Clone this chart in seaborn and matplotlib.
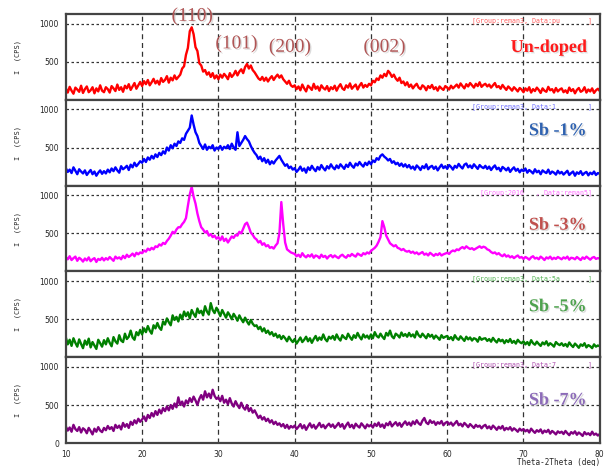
import numpy as np
import pandas as pd
import matplotlib.pyplot as plt
import matplotlib.patheffects as pe
import seaborn as sns
from matplotlib.ticker import MultipleLocator

# 2-theta sampling grid (deg), 0.25 deg step
two_theta = np.arange(10, 80.001, 0.25)

undoped = [
    150, 95, 170, 120, 80, 160, 135, 105, 185, 90, 140, 175, 100, 125, 165, 85, 150, 110, 190, 120,
    100, 165, 140, 95, 180, 150, 115, 200, 130, 165, 105, 185, 150, 205, 130, 175, 220, 145, 190, 235,
    180, 245, 205, 260, 190, 230, 275, 215, 250, 200, 285, 235, 260, 310, 225, 290, 255, 320, 270, 300,
    330, 410, 440, 590, 680, 900, 950, 860, 690, 640, 480, 450, 370, 390, 330, 360, 300, 350, 280, 320,
    270, 330, 290, 340, 310, 270, 350, 300, 330, 380, 320, 370, 400, 350, 430, 470, 410, 450, 390, 360,
    320, 280, 260, 300, 250, 290, 240, 280, 310, 260, 300, 330, 290, 320, 270, 240, 210, 250, 190, 170,
    190, 140, 175, 125, 200, 150, 110, 185, 160, 130, 210, 145, 175, 120, 190, 155, 135, 180, 115, 165,
    140, 185, 120, 170, 205, 150, 130, 190, 160, 215, 145, 175, 200, 135, 185, 220, 160, 195, 170, 210,
    190, 250, 230, 280, 260, 320, 290, 340, 310, 380, 350, 300, 330, 280, 250, 290, 220, 240, 190, 230,
    170, 200, 150, 185, 210, 160, 140, 190, 170, 125, 180, 155, 195, 140, 165, 120, 175, 150, 130, 180,
    160, 135, 185, 150, 175, 200, 160, 215, 180, 150, 205, 175, 220, 190, 160, 210, 180, 230, 170, 195,
    210, 175, 200, 160, 190, 220, 165, 180, 145, 195, 160, 130, 175, 150, 120, 165, 140, 110, 155, 135,
    100, 150, 120, 165, 95, 140, 115, 160, 130, 90, 150, 120, 105, 170, 125, 140, 95, 155, 110, 135,
    150, 100, 125, 90, 160, 115, 140, 85, 130, 155, 105, 120, 165, 95, 135, 110, 150, 90, 125, 145,
    115,
]

sb1 = [
    230, 180, 210, 165, 240, 195, 150, 215, 185, 160, 200, 140, 175, 205, 150, 185, 130, 170, 200, 155,
    190, 160, 210, 175, 225, 190, 240, 200, 170, 255, 215, 235, 260, 205, 275, 240, 300, 255, 285, 320,
    300, 350, 310, 370, 340, 390, 355, 410, 375, 430, 400, 450, 420, 500, 460, 530, 490, 550, 520, 580,
    560, 620, 600, 680, 720, 760, 920, 800, 700, 650, 560, 520, 480, 540, 470, 510, 490, 530, 460, 500,
    480, 520, 470, 510, 490, 530, 480, 550, 500, 470, 700, 520, 560, 600, 650, 610, 580, 520, 470, 430,
    400, 350, 380, 320, 360, 300, 340, 280, 320, 290, 330, 360, 390, 340, 300, 260, 280, 230, 250, 210,
    230, 180, 210, 250, 195, 225, 170, 240, 205, 260, 220, 190, 245, 210, 270, 230, 200, 255, 225, 280,
    240, 215, 265, 230, 280, 250, 220, 275, 245, 300, 260, 235, 290, 265, 310, 275, 250, 300, 270, 315,
    280, 330, 310, 360, 340, 390, 410, 380, 360, 330, 350, 300, 320, 280, 300, 260, 290, 250, 280, 240,
    270, 225, 250, 210, 265, 240, 205, 255, 230, 280, 215, 245, 260, 220, 250, 200, 240, 275, 230, 255,
    220, 270, 245, 210, 260, 235, 285, 250, 225, 275, 290, 240, 265, 230, 280, 250, 220, 270, 245, 230,
    260, 220, 250, 205, 240, 265, 215, 235, 190, 245, 225, 200, 235, 180, 215, 240, 195, 220, 175, 210,
    190, 225, 170, 205, 185, 160, 215, 175, 195, 150, 200, 180, 165, 210, 155, 185, 170, 145, 195, 160,
    180, 145, 170, 195, 140, 165, 185, 130, 175, 155, 190, 140, 165, 180, 135, 170, 150, 185, 140, 165,
    155,
]

sb3 = [
    190, 160, 200, 150, 175, 195, 140, 180, 160, 130, 170, 145, 185, 135, 160, 175, 125, 165, 150, 180,
    145, 175, 155, 190, 165, 140, 195, 170, 185, 160, 205, 175, 220, 190, 210, 235, 200, 245, 225, 250,
    240, 275, 260, 300, 280, 310, 290, 330, 320, 355, 340, 375, 360, 400, 430, 470, 520, 500, 550, 580,
    580, 620, 650, 700, 860, 1010, 1110, 980, 890, 760, 660, 580, 550, 510, 530, 470, 490, 450, 470, 430,
    450, 410, 460, 400, 430, 380, 420, 460, 440, 480, 470, 520, 500, 560, 620, 640, 580, 510, 480, 440,
    420, 380, 400, 350, 370, 330, 345, 310, 320, 300, 340, 370, 500, 910, 620, 380, 290, 270, 250, 240,
    230, 200, 220, 190, 240, 205, 185, 215, 195, 225, 180, 210, 200, 175, 220, 190, 205, 170, 200, 215,
    185, 210, 190, 175, 205, 220, 195, 180, 215, 200, 230, 210, 195, 235, 220, 205, 240, 225, 250, 235,
    270, 290, 310, 340, 390, 450, 660, 580, 470, 420, 370, 350, 330, 345, 310, 300, 280, 295, 270, 260,
    270, 245, 260, 235, 250, 225, 240, 255, 220, 235, 210, 245, 225, 205, 230, 215, 240, 210, 225, 235,
    245, 230, 260, 275, 265, 290, 280, 305, 320, 300, 330, 310, 295, 305, 285, 300, 315, 330, 310, 325,
    315, 290, 280, 255, 240, 250, 225, 240, 215, 200, 225, 195, 210, 185, 200, 175, 195, 210, 180, 190,
    165, 190, 175, 155, 185, 200, 170, 180, 160, 195, 175, 150, 185, 170, 195, 160, 180, 165, 190, 175,
    160, 185, 170, 195, 155, 180, 175, 160, 190, 170, 150, 185, 165, 195, 175, 155, 180, 190, 165, 175,
    170,
]

sb5 = [
    260, 170, 230, 150, 250, 190, 140, 235, 175, 120, 220, 165, 245, 130, 200, 155, 110, 230, 185, 140,
    225, 170, 250, 190, 145, 265, 210, 180, 290, 220, 200, 310, 240, 270, 350, 260, 230, 330, 290, 360,
    300, 380, 330, 410, 350, 310, 420, 380, 450, 390, 360, 470, 430, 510, 460, 420, 550, 490, 530, 470,
    560, 500, 600, 540, 590, 510, 620, 570, 530, 640, 580, 610, 550, 670, 600, 560, 710, 620, 580, 650,
    600, 540, 620, 570, 520, 590, 550, 500, 570, 530, 480, 550, 500, 460, 520, 470, 430, 490, 440, 410,
    420, 370, 400, 340, 380, 320, 350, 300, 330, 280, 310, 260, 290, 240, 280, 250, 210, 270, 230, 200,
    240, 180, 220, 260, 200, 230, 270, 210, 250, 190, 240, 280, 220, 260, 230, 300, 240, 210, 270, 245,
    280, 230, 300, 250, 220, 290, 260, 240, 310, 265, 230, 290, 255, 320, 270, 235, 300, 260, 285, 245,
    300, 250, 330, 280, 260, 310, 270, 240, 320, 285, 350, 275, 250, 310, 290, 260, 325, 280, 305, 270,
    320, 275, 300, 260, 340, 290, 265, 310, 280, 250, 305, 270, 295, 245, 285, 260, 230, 290, 255, 270,
    280, 240, 265, 225, 290, 250, 230, 275, 245, 215, 270, 235, 260, 220, 250, 240, 205, 265, 230, 245,
    250, 215, 240, 205, 255, 220, 195, 240, 210, 230, 185, 225, 200, 240, 190, 215, 180, 230, 200, 185,
    210, 170, 200, 160, 225, 185, 165, 205, 175, 150, 195, 170, 210, 155, 185, 165, 140, 200, 175, 160,
    185, 150, 175, 140, 195, 160, 135, 180, 155, 125, 170, 150, 185, 130, 160, 145, 120, 170, 140, 155,
    145,
]

sb7 = [
    220, 165, 205, 150, 240, 185, 160, 210, 140, 195, 175, 130, 200, 160, 115, 190, 150, 210, 165, 145,
    200, 170, 225, 185, 210, 160, 240, 200, 230, 180, 265, 215, 250, 200, 280, 240, 300, 260, 320, 280,
    310, 350, 290, 370, 330, 395, 350, 420, 370, 440, 390, 460, 420, 480, 430, 500, 450, 520, 470, 600,
    500, 545, 480, 560, 520, 590, 540, 610, 560, 500, 580, 630, 570, 680, 600, 650, 590, 700, 620, 580,
    600, 550, 620, 530, 570, 510, 590, 520, 480, 550, 500, 460, 530, 470, 440, 500, 420, 460, 400, 430,
    380, 330, 360, 310, 340, 290, 320, 270, 300, 250, 280, 240, 260, 220, 250, 200, 240, 190, 225, 205,
    230, 185, 215, 250, 195, 235, 175, 220, 260, 205, 240, 190, 225, 265, 210, 240, 195, 230, 255, 215,
    245, 200, 230, 265, 215, 250, 190, 235, 270, 210, 240, 195, 255, 225, 205, 260, 230, 195, 245, 220,
    240, 205, 255, 225, 270, 215, 245, 200, 260, 235, 280, 220, 250, 275, 230, 265, 215, 255, 285, 240,
    270, 230, 285, 250, 300, 260, 240, 295, 330, 270, 250, 300, 265, 285, 240, 275, 255, 290, 235, 265,
    280, 245, 270, 230, 260, 290, 235, 255, 220, 265, 240, 210, 250, 225, 200, 240, 215, 230, 195, 225,
    240, 195, 220, 185, 230, 205, 175, 215, 190, 225, 170, 200, 180, 210, 165, 195, 175, 150, 190, 165,
    185, 155, 175, 140, 190, 160, 135, 170, 150, 180, 130, 165, 145, 175, 125, 160, 140, 115, 155, 135,
    150, 120, 160, 130, 105, 145, 125, 155, 110, 140, 120, 95, 145, 115, 130, 105, 150, 110, 125, 100,
    120,
]

series = [undoped, sb1, sb3, sb5, sb7]
line_colors = ['#ff0000', '#0000ff', '#ff00ff', '#008000', '#800080']
sample_names = ['Un-doped', 'Sb -1%', 'Sb -3%', 'Sb -5%', 'Sb -7%']
name_colors = ['#ff1a1a', '#2f62b0', '#c0504d', '#4ea24e', '#8c6bb8']
name_y = [0.61, 0.64, 0.54, 0.59, 0.50]
group_tags = ['[Group:reman3, Data:pu       ]', '[Group:reman3, Data:1        ]',
              '[Group:2016   , Data:reman5]', '[Group:reman3, Data:5a       ]',
              '[Group:reman3, Data:7        ]']
tag_colors = ['#ff6060', '#7070ff', '#ff70ff', '#50b050', '#b050b0']
peak_labels = ['(110)', '(101)', '(200)', '(002)']
peak_pos = [26.6, 32.4, 39.4, 51.8]
peak_label_y = [1095, 735, 690, 690]

sns.set_style('white')
plt.rcParams['font.family'] = ['DejaVu Sans']

fig, axes = plt.subplots(5, 1, figsize=(6.04, 4.66), dpi=100, sharex=True)
fig.subplots_adjust(left=0.109, right=0.993, top=0.970, bottom=0.049, hspace=0)

for i, ax in enumerate(axes):
    df = pd.DataFrame({'two_theta': two_theta, 'I': series[i]})
    sns.lineplot(data=df, x='two_theta', y='I', ax=ax, color=line_colors[i], lw=1.7)
    ax.set_xlim(10, 80)
    ax.set_ylim(0, 1125)
    ax.set_xlabel('')
    ax.set_ylabel('I  (CPS)', fontsize=5, family='DejaVu Sans Mono', labelpad=13)
    ax.set_yticks([500, 1000] if i < 4 else [0, 500, 1000])
    ax.yaxis.set_minor_locator(MultipleLocator(100))
    ax.xaxis.set_major_locator(MultipleLocator(10))
    ax.xaxis.set_minor_locator(MultipleLocator(1))
    ax.tick_params(axis='y', which='major', direction='out', length=3, width=1, labelsize=5.5, pad=2)
    ax.tick_params(axis='y', which='minor', direction='out', length=1.5, width=0.8)
    ax.tick_params(axis='x', which='major', direction='out', length=3, width=1, labelsize=5.5, pad=2)
    ax.tick_params(axis='x', which='minor', direction='out', length=2, width=0.8)
    for x in [20, 30, 40, 50, 60, 70]:
        ax.axvline(x, color='#333333', lw=0.9, ls=(0, (4, 3)), zorder=0)
    for y in [500, 1000]:
        ax.axhline(y, color='#333333', lw=0.9, ls=(0, (2, 2)), zorder=0)
    for s in ax.spines.values():
        s.set_color('#444444')
        s.set_linewidth(1.6)
    ax.text(0.985, 0.96, group_tags[i], transform=ax.transAxes, ha='right', va='top',
            fontsize=4.8, family='DejaVu Sans Mono', color=tag_colors[i])
    ax.text(0.975, name_y[i], sample_names[i], transform=ax.transAxes, ha='right', va='center',
            fontsize=13, fontweight='bold', family='Liberation Serif', color=name_colors[i],
            path_effects=[pe.withSimplePatchShadow(offset=(1, -1), shadow_rgbFace='#bbbbbb', alpha=0.5)])
    if i < 4:
        ax.tick_params(axis='x', labelbottom=False)

axes[-1].set_xlabel('Theta-2Theta (deg)', fontsize=5.5, family='DejaVu Sans Mono')
axes[-1].xaxis.set_label_coords(1.0, -0.17)
axes[-1].xaxis.label.set_horizontalalignment('right')

# peak indices above the top pattern
for lab, pos, ly in zip(peak_labels, peak_pos, peak_label_y):
    axes[0].text(pos, ly, lab, ha='center', va='center', fontsize=14,
                 family='Liberation Serif', color='#b05555', clip_on=False,
                 path_effects=[pe.withSimplePatchShadow(offset=(1, -1), shadow_rgbFace='#bbbbbb', alpha=0.5)])

fig.savefig('out.png', dpi=100)
